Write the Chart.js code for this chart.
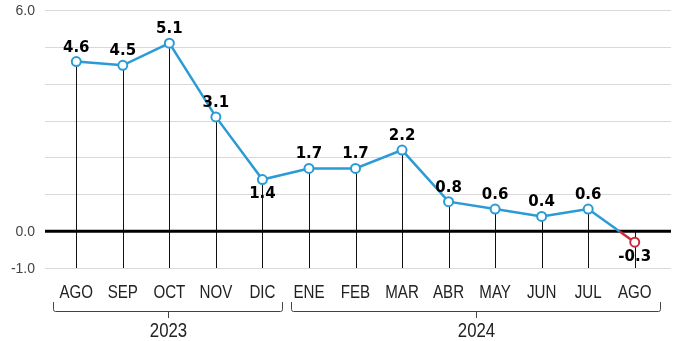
<!DOCTYPE html>
<html lang="es">
<head>
<meta charset="utf-8">
<title>Variación mensual</title>
<script src="https://cdn.jsdelivr.net/npm/chart.js@4"></script>
<style>
  html, body { margin: 0; padding: 0; background: #fff; }
  #chart { display: block; }
</style>
</head>
<body>
<canvas id="chart" width="673" height="341"></canvas>
<script>
// Month labels, yearly groups and the monthly values
const months = ['AGO', 'SEP', 'OCT', 'NOV', 'DIC', 'ENE', 'FEB', 'MAR', 'ABR', 'MAY', 'JUN', 'JUL', 'AGO'];
const values = [4.6, 4.5, 5.1, 3.1, 1.4, 1.7, 1.7, 2.2, 0.8, 0.6, 0.4, 0.6, -0.3];
const years = [
  { label: '2023', from: 0, to: 4 },
  { label: '2024', from: 5, to: 12 },
];
const yTickLabels = [6, 0, -1];
const gridValues = [6, 5, 4, 3, 2, 1, -1];
// labels drawn under their point instead of above
const labelsBelow = [4, 12];

const BLUE = '#2b9bd6';
const RED = '#cc2a3c';
const SANS = "'Liberation Sans', Arial, sans-serif";

const canvas = document.getElementById('chart');
const ctx2d = canvas.getContext('2d');

// Colour a segment red once the line drops below zero
function segmentColor(seg) {
  const v0 = values[seg.p0DataIndex];
  const v1 = values[seg.p1DataIndex];
  if (v0 >= 0 && v1 >= 0) return BLUE;
  if (v0 < 0 && v1 < 0) return RED;
  const t = v0 / (v0 - v1);
  const g = ctx2d.createLinearGradient(seg.p0.x, 0, seg.p1.x, 0);
  const a = v0 >= 0 ? BLUE : RED;
  const b = v0 >= 0 ? RED : BLUE;
  g.addColorStop(0, a);
  g.addColorStop(t, a);
  g.addColorStop(t, b);
  g.addColorStop(1, b);
  return g;
}

// Condensed text: squeeze a regular face horizontally
function narrowText(ctx, text, x, y, squeeze) {
  ctx.save();
  ctx.translate(x, y);
  ctx.scale(squeeze, 1);
  ctx.fillText(text, 0, 0);
  ctx.restore();
}

// Grid, zero line, drop lines and y labels go under the line
const backdrop = {
  id: 'backdrop',
  beforeDatasetsDraw(chart) {
    const { ctx, scales: { x, y } } = chart;
    const left = 45, right = 671;
    ctx.save();

    ctx.strokeStyle = '#d9d9d9';
    ctx.lineWidth = 1;
    gridValues.forEach(v => {
      const py = Math.round(y.getPixelForValue(v)) + 0.5;
      ctx.beginPath();
      ctx.moveTo(left, py);
      ctx.lineTo(right, py);
      ctx.stroke();
    });

    // vertical lines from each point down to the bottom of the plot
    ctx.strokeStyle = '#111';
    ctx.lineWidth = 1;
    const bottom = y.getPixelForValue(-1);
    values.forEach((v, i) => {
      const px = Math.round(x.getPixelForValue(i)) + 0.5;
      ctx.beginPath();
      ctx.moveTo(px, y.getPixelForValue(Math.max(v, 0)));
      ctx.lineTo(px, bottom);
      ctx.stroke();
    });

    ctx.strokeStyle = '#000';
    ctx.lineWidth = 3;
    const zero = y.getPixelForValue(0);
    ctx.beginPath();
    ctx.moveTo(left, zero);
    ctx.lineTo(right, zero);
    ctx.stroke();

    ctx.fillStyle = '#444';
    ctx.font = '14px ' + SANS;
    ctx.textAlign = 'right';
    ctx.textBaseline = 'middle';
    yTickLabels.forEach(v => {
      ctx.fillText(v.toFixed(1), 35, y.getPixelForValue(v) + 1);
    });
    ctx.restore();
  },

  // value labels, month labels and year brackets
  afterDatasetsDraw(chart) {
    const { ctx, scales: { x } } = chart;
    const points = chart.getDatasetMeta(0).data;
    ctx.save();

    ctx.fillStyle = '#000';
    ctx.font = "bold 15px 'DejaVu Sans', sans-serif";
    ctx.textAlign = 'center';
    points.forEach((pt, i) => {
      if (labelsBelow.includes(i)) {
        ctx.textBaseline = 'top';
        ctx.fillText(values[i].toFixed(1), pt.x, pt.y + 7);
      } else {
        ctx.textBaseline = 'alphabetic';
        ctx.fillText(values[i].toFixed(1), pt.x, pt.y - 10);
      }
    });

    ctx.fillStyle = '#222';
    ctx.font = '18px ' + SANS;
    ctx.textBaseline = 'middle';
    months.forEach((m, i) => {
      narrowText(ctx, m, x.getPixelForValue(i), 293, 0.84);
    });

    const half = (x.getPixelForValue(1) - x.getPixelForValue(0)) / 2;
    ctx.strokeStyle = '#444';
    ctx.lineWidth = 1;
    ctx.font = '20px ' + SANS;
    years.forEach((yr, k) => {
      const x0 = Math.round(x.getPixelForValue(yr.from) - half + (k === 0 ? 0 : 5)) + 0.5;
      const x1 = Math.round(x.getPixelForValue(yr.to) + half - (k === 0 ? 4 : -2)) + 0.5;
      const mid = Math.round((x0 + x1) / 2) + 0.5;
      const top = 302, line = 311.5;
      ctx.beginPath();
      ctx.moveTo(x0, top);
      ctx.lineTo(x0, line - 2);
      ctx.quadraticCurveTo(x0, line, x0 + 2, line);
      ctx.lineTo(x1 - 2, line);
      ctx.quadraticCurveTo(x1, line, x1, line - 2);
      ctx.lineTo(x1, top);
      ctx.moveTo(mid, line);
      ctx.lineTo(mid, 318);
      ctx.stroke();
      narrowText(ctx, yr.label, mid, 331, 0.84);
    });
    ctx.restore();
  },
};

new Chart(canvas, {
  type: 'line',
  data: {
    labels: months,
    datasets: [{
      data: values,
      borderColor: BLUE,
      borderWidth: 2.5,
      tension: 0,
      pointRadius: 4.5,
      pointBorderWidth: 2,
      pointBackgroundColor: '#fff',
      pointBorderColor: values.map(v => (v < 0 ? RED : BLUE)),
      segment: { borderColor: segmentColor },
    }],
  },
  options: {
    responsive: false,
    animation: false,
    layout: { padding: { left: 53, right: 15, top: 10, bottom: 73 } },
    plugins: { legend: { display: false }, tooltip: { enabled: false } },
    scales: {
      x: { display: false, offset: true },
      y: { display: false, min: -1, max: 6 },
    },
  },
  plugins: [backdrop],
});
</script>
</body>
</html>
